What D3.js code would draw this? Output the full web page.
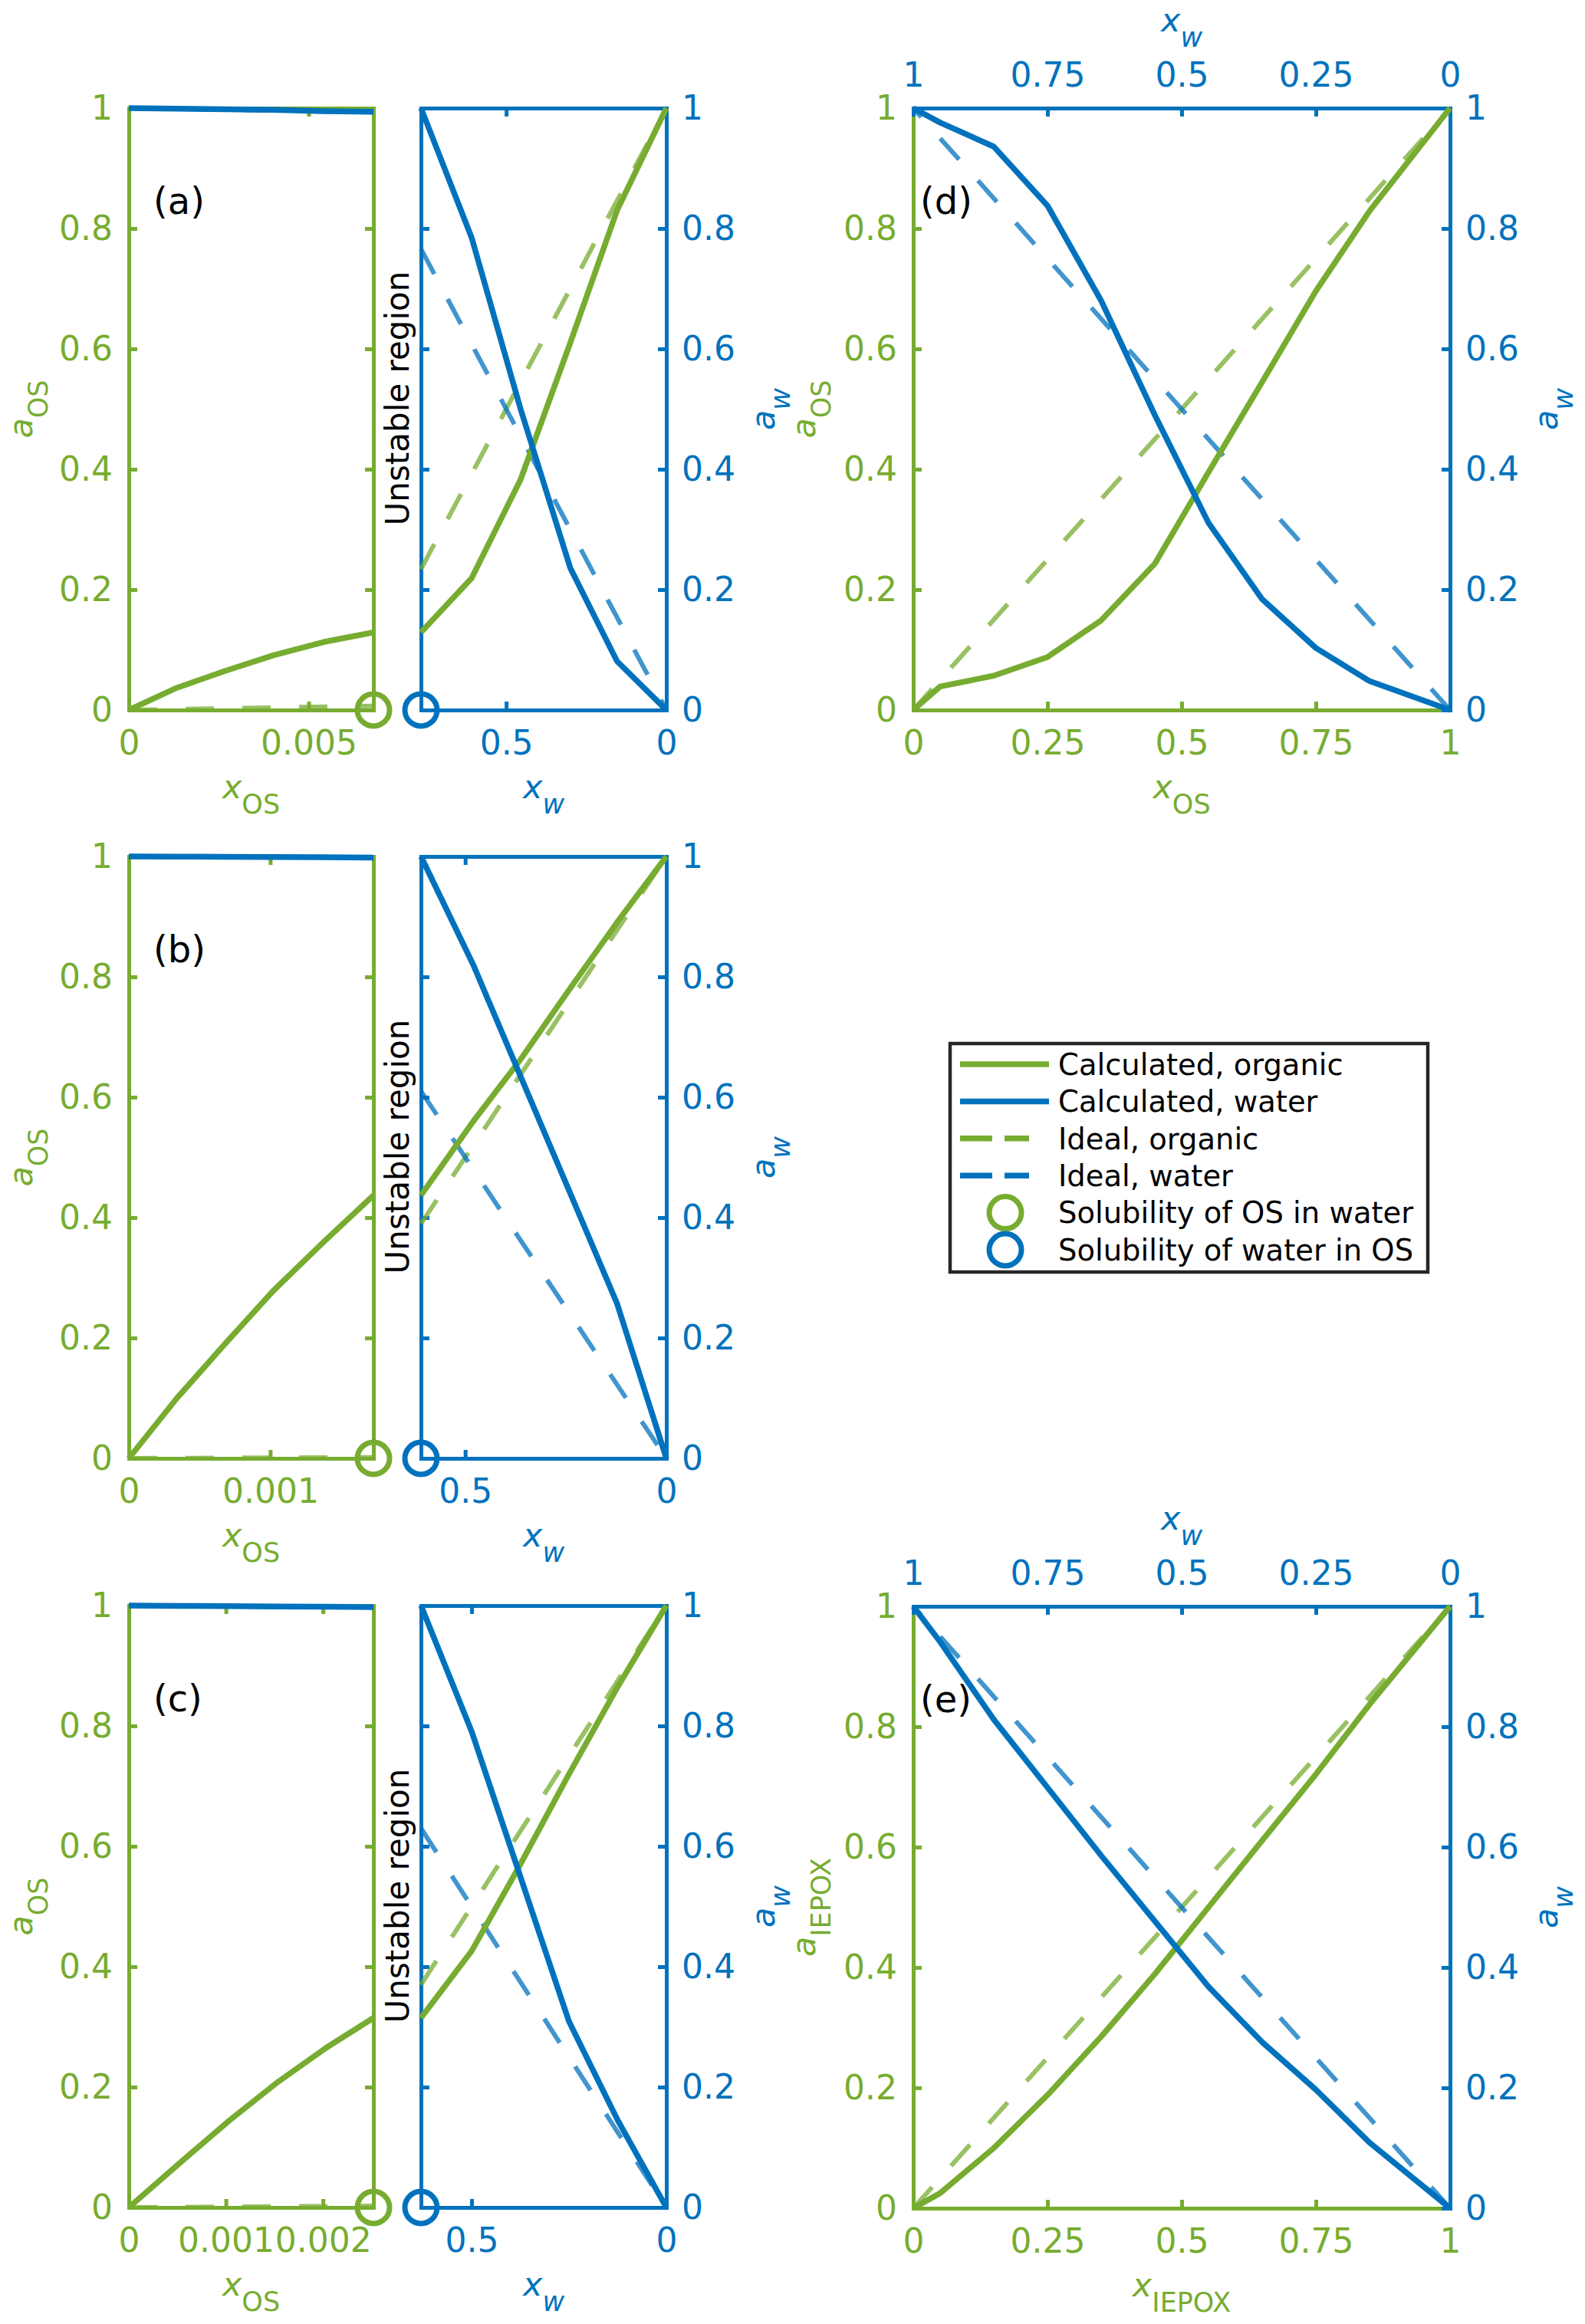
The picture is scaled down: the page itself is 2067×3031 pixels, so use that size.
<!doctype html>
<html>
  <head>
    <meta charset="utf-8">
    <style>
      body { margin: 0; background: #fff; }
      svg { display: block; font-family: 'DejaVu Sans', sans-serif; }
    </style>
  </head>
  <body>
    <svg width="2067" height="3031" id="chart"></svg>

    <script src="https://cdnjs.cloudflare.com/ajax/libs/d3/7.8.5/d3.min.js"></script>
    <script>
      const green = '#77AC30'
      const blue = '#0072BD'

      // ---- panels (a)-(c): water-rich phase (left) and OS-rich phase (right)
      const splitLetters = ['(a)', '(b)', '(c)']
      const solOS = [0.0068, 0.00173, 0.00252]   // solubility of OS in water, x_OS
      const solW = [0.766, 0.61, 0.63]           // solubility of water in OS, x_w
      const leftXTicks = [[0, 0.005], [0, 0.001], [0, 0.001, 0.002]]
      const rightXTicks = [0.5, 0]
      const aTicks = [0, 0.2, 0.4, 0.6, 0.8, 1]

      const leftXOS = [
        [0, 0.00134, 0.00268, 0.00402, 0.00542, 0.0068],
        [0, 0.00034, 0.00068, 0.00102, 0.00138, 0.00173],
        [0, 0.00054, 0.00104, 0.00154, 0.00203, 0.00252]
      ]
      const leftAOS = [
        [0, 0.037, 0.065, 0.091, 0.113, 0.129],
        [0, 0.10, 0.19, 0.278, 0.36, 0.437],
        [0, 0.076, 0.145, 0.209, 0.265, 0.315]
      ]
      const leftAW = [
        [1, 0.999, 0.998, 0.997, 0.995, 0.994],
        [1, 0.9997, 0.9993, 0.999, 0.9986, 0.998],
        [1, 0.9995, 0.999, 0.9985, 0.998, 0.9975]
      ]
      const leftIdealAOS = [[0, 0.0068], [0, 0.00173], [0, 0.00252]]
      const leftIdealAW = [[1, 0.9932], [1, 0.9983], [1, 0.9975]]

      const rightXW = [
        [0.766, 0.608, 0.455, 0.30, 0.154, 0],
        [0.61, 0.48, 0.36, 0.24, 0.123, 0],
        [0.63, 0.5, 0.375, 0.25, 0.125, 0]
      ]
      const rightAOS = [
        [0.129, 0.219, 0.383, 0.61, 0.83, 1],
        [0.437, 0.56, 0.665, 0.78, 0.89, 1],
        [0.315, 0.426, 0.57, 0.72, 0.865, 1]
      ]
      const rightAW = [
        [1, 0.785, 0.50, 0.236, 0.081, 0],
        [1, 0.82, 0.631, 0.442, 0.258, 0],
        [1, 0.791, 0.55, 0.309, 0.145, 0]
      ]
      const rightIdealAOS = [[0.234, 1], [0.39, 1], [0.37, 1]]
      const rightIdealAW = [[0.766, 0], [0.61, 0], [0.63, 0]]

      // ---- panels (d) and (e): full composition range
      const fullLetters = ['(d)', '(e)']
      const fullTicks = [0, 0.25, 0.5, 0.75, 1]
      const fullXOS = [0, 0.05, 0.15, 0.25, 0.35, 0.45, 0.55, 0.65, 0.75, 0.85, 1]
      const fullXW = [1, 0.95, 0.85, 0.75, 0.65, 0.55, 0.45, 0.35, 0.25, 0.15, 0]
      const fullAOS = [
        [0, 0.039, 0.057, 0.088, 0.149, 0.243, 0.395, 0.545, 0.696, 0.829, 1],
        [0, 0.025, 0.10, 0.188, 0.285, 0.389, 0.50, 0.611, 0.721, 0.837, 1]
      ]
      const fullAW = [
        [1, 0.976, 0.936, 0.838, 0.68, 0.49, 0.311, 0.184, 0.103, 0.048, 0],
        [1, 0.941, 0.812, 0.699, 0.586, 0.477, 0.368, 0.276, 0.197, 0.109, 0]
      ]
      const idealEnds = [0, 1]
      const fullLeftSub = ['OS', 'IEPOX']

      const legendLabels = ['Calculated, organic', 'Calculated, water', 'Ideal, organic',
        'Ideal, water', 'Solubility of OS in water', 'Solubility of water in OS']
      const legendColors = [green, blue, green, blue, green, blue]
      const legendKinds = ['solid', 'solid', 'dash', 'dash', 'circle', 'circle']

      // ---- layout
      const panelH = 785
      const leftX = [168, 487]
      const rightX = [549, 869]
      const splitTops = [141, 1117, 2094]
      const fullX = [1191, 1891]
      const fullTops = [141, 2095]
      const tick = 11
      const fmt = d3.format('~g')

      const svg = d3.select('#chart')

      function addAxis (axis, tx, ty, color, labels) {
        if (!labels) axis.tickFormat(() => '')
        const g = svg.append('g')
          .attr('transform', `translate(${tx},${ty})`)
          .call(axis)
        g.attr('color', color).attr('font-family', 'DejaVu Sans').attr('font-size', 44)
        g.selectAll('.domain').attr('stroke-width', 5).attr('stroke-linecap', 'square')
        g.selectAll('.tick line').attr('stroke-width', 5)
        return g
      }

      function box (x, y, color, xTicks, yTicks, labels) {
        // labels: [left, bottom, right, top]
        const [x0, x1] = x.range()
        const [y0, y1] = y.range()
        addAxis(d3.axisLeft(y).tickValues(yTicks).tickSize(-tick).tickSizeOuter(0).tickPadding(21).tickFormat(fmt), x0, 0, color[0], labels[0])
        addAxis(d3.axisBottom(x).tickValues(xTicks[0]).tickSize(-tick).tickSizeOuter(0).tickPadding(27).tickFormat(fmt), 0, y0, color[1], labels[1])
        addAxis(d3.axisRight(y).tickValues(yTicks).tickSize(-tick).tickSizeOuter(0).tickPadding(20).tickFormat(fmt), x1, 0, color[2], labels[2])
        addAxis(d3.axisTop(xTicks[2] || x).tickValues(xTicks[1]).tickSize(-tick).tickSizeOuter(0).tickPadding(28).tickFormat(fmt), 0, y1, color[3], labels[3])
      }

      function drawLine (xs, ys, x, y, color, dashed) {
        svg.append('path')
          .datum(d3.zip(xs, ys))
          .attr('d', d3.line().x(d => x(d[0])).y(d => y(d[1])))
          .attr('fill', 'none')
          .attr('stroke', color)
          .attr('stroke-width', dashed ? 6 : 7.5)
          .attr('stroke-linejoin', 'round')
          .attr('stroke-dasharray', dashed ? '37,37' : null)
          .attr('opacity', dashed ? 0.75 : 1)
      }

      function marker (cx, cy, color) {
        svg.append('circle')
          .attr('cx', cx).attr('cy', cy).attr('r', 21)
          .attr('fill', 'none').attr('stroke', color).attr('stroke-width', 7)
      }

      function axisLabel (x, y, main, sub, color, rotate, subItalic) {
        const t = svg.append('text')
          .attr('transform', `translate(${x},${y})` + (rotate ? ' rotate(-90)' : ''))
          .attr('text-anchor', 'middle')
          .attr('fill', color)
          .style('font-size', '43px')
        t.append('tspan').style('font-style', 'italic').text(main)
        t.append('tspan').attr('dy', 20).style('font-size', '35px')
          .style('font-style', subItalic ? 'italic' : 'normal').text(sub)
      }

      function panelLetter (x, y, txt) {
        svg.append('text').attr('x', x).attr('y', y)
          .attr('fill', '#000').style('font-size', '48px').text(txt)
      }

      // ---- panels (a)-(c)
      splitTops.forEach((top, i) => {
        const bottom = top + panelH
        const mid = top + panelH / 2
        const y = d3.scaleLinear().domain([0, 1]).range([bottom, top])
        const xL = d3.scaleLinear().domain([0, solOS[i]]).range(leftX)
        const xR = d3.scaleLinear().domain([solW[i], 0]).range(rightX)

        box(xL, y, [green, green, green, green], [leftXTicks[i], leftXTicks[i]], aTicks, [true, true, false, false])
        box(xR, y, [blue, blue, blue, blue], [rightXTicks, rightXTicks], aTicks, [false, true, true, false])

        drawLine([0, solOS[i]], leftIdealAOS[i], xL, y, green, true)
        drawLine([0, solOS[i]], leftIdealAW[i], xL, y, blue, true)
        drawLine(leftXOS[i], leftAOS[i], xL, y, green, false)
        drawLine(leftXOS[i], leftAW[i], xL, y, blue, false)

        drawLine([solW[i], 0], rightIdealAOS[i], xR, y, green, true)
        drawLine([solW[i], 0], rightIdealAW[i], xR, y, blue, true)
        drawLine(rightXW[i], rightAOS[i], xR, y, green, false)
        drawLine(rightXW[i], rightAW[i], xR, y, blue, false)

        marker(xL(solOS[i]), y(0), green)
        marker(xR(solW[i]), y(0), blue)

        axisLabel(leftX[0] - 126, mid, 'a', 'OS', green, true, false)
        axisLabel(rightX[1] + 141, mid, 'a', 'w', blue, true, true)
        axisLabel((leftX[0] + leftX[1]) / 2, bottom + 115, 'x', 'OS', green, false, false)
        axisLabel((rightX[0] + rightX[1]) / 2, bottom + 115, 'x', 'w', blue, false, true)

        svg.append('text')
          .attr('transform', `translate(${rightX[0] - 16},${mid - 14}) rotate(-90)`)
          .attr('text-anchor', 'middle')
          .attr('fill', '#000')
          .style('font-size', '42px')
          .text('Unstable region')

        panelLetter(leftX[0] + 32, top + 138, splitLetters[i])
      })

      // ---- panels (d), (e)
      fullTops.forEach((top, i) => {
        const bottom = top + panelH
        const mid = top + panelH / 2
        const y = d3.scaleLinear().domain([0, 1]).range([bottom, top])
        const xOS = d3.scaleLinear().domain([0, 1]).range(fullX)
        const xW = d3.scaleLinear().domain([1, 0]).range(fullX)

        box(xOS, y, [green, green, blue, blue], [fullTicks, fullTicks, xW], aTicks, [true, true, true, true])

        drawLine(idealEnds, idealEnds, xOS, y, green, true)
        drawLine(idealEnds, idealEnds, xW, y, blue, true)
        drawLine(fullXOS, fullAOS[i], xOS, y, green, false)
        drawLine(fullXW, fullAW[i], xW, y, blue, false)

        axisLabel(fullX[0] - 128, mid, 'a', fullLeftSub[i], green, true, false)
        axisLabel(fullX[1] + 140, mid, 'a', 'w', blue, true, true)
        axisLabel((fullX[0] + fullX[1]) / 2, bottom + 115, 'x', fullLeftSub[i], green, false, false)
        axisLabel((fullX[0] + fullX[1]) / 2, top - 100, 'x', 'w', blue, false, true)

        panelLetter(fullX[0] + 9, top + 138, fullLetters[i])
      })

      // ---- legend
      const lg = svg.append('g')
      lg.append('rect')
        .attr('x', 1239).attr('y', 1361).attr('width', 623).attr('height', 298)
        .attr('fill', '#fff').attr('stroke', '#262626').attr('stroke-width', 4.5)
      const rowY = d3.scaleLinear().domain([0, legendLabels.length - 1]).range([1388, 1630])
      legendLabels.forEach((label, i) => {
        const yy = rowY(i)
        if (legendKinds[i] === 'circle') {
          lg.append('circle').attr('cx', 1311).attr('cy', yy).attr('r', 21)
            .attr('fill', 'none').attr('stroke', legendColors[i]).attr('stroke-width', 7)
        } else {
          lg.append('line').attr('x1', 1252).attr('x2', 1368).attr('y1', yy).attr('y2', yy)
            .attr('stroke', legendColors[i]).attr('stroke-width', 7.5)
            .attr('stroke-dasharray', legendKinds[i] === 'dash' ? '42,16,32,30' : null)
        }
        lg.append('text').attr('x', 1380).attr('y', yy).attr('dy', '0.36em')
          .attr('fill', '#000').style('font-size', '38.5px').text(label)
      })
    </script>
  </body>
</html>
